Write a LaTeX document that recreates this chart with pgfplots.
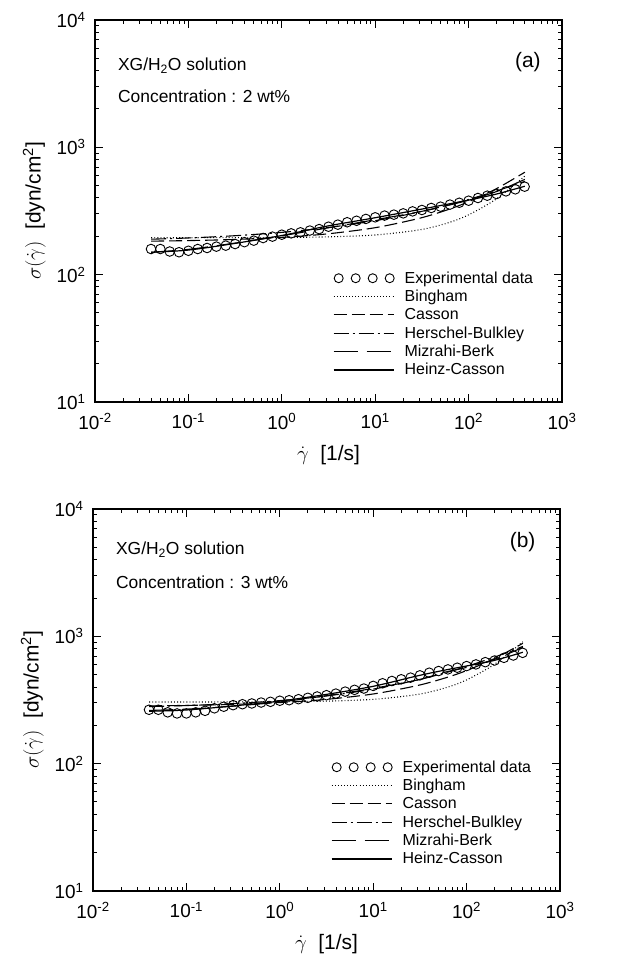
\documentclass[border=0pt]{standalone}
\usepackage{fontspec}
\setmainfont{Liberation Sans}
\usepackage{pgfplots}
\pgfplotsset{compat=1.18}
\tikzset{
  bing/.style={black, line width=1.1bp, dash pattern=on 0.9bp off 2.2bp},
  cass/.style={black, line width=1.1bp, dash pattern=on 13bp off 5bp},
  hb/.style={black, line width=1.1bp, dash pattern=on 15bp off 4bp on 2bp off 4bp},
  mb/.style={black, line width=1.1bp, dash pattern=on 24bp off 9bp},
  hc/.style={black, line width=1.2bp},
}
\newcommand{\circleslegend}{\foreach \k in {0,1,2,3}{\draw[black,line width=0.9bp] (\k*17bp+5bp,0bp) circle (4.5bp);}}
\begin{document}
\begin{tikzpicture}
\useasboundingbox (0bp,0bp) rectangle (625bp,963bp);
% ---------------- panel (a)
\begin{axis}[at={(95bp,561bp)}, anchor=south west,
    xmode=log, ymode=log, scale only axis, width=467bp, height=382bp,
    xmin=1e-2, xmax=1e3, ymin=10, ymax=1e4,
    xtick={0.01,0.1,1,10,100,1000},
    xticklabels={10\textsuperscript{-2},10\textsuperscript{-1},10\textsuperscript{0},10\textsuperscript{1},10\textsuperscript{2},10\textsuperscript{3}},
    ytick={10,100,1000,10000},
    yticklabels={10\textsuperscript{1},10\textsuperscript{2},10\textsuperscript{3},10\textsuperscript{4}},
    minor xtick={0.02,0.03,0.04,0.05,0.06,0.07,0.08,0.09,0.2,0.3,0.4,0.5,0.6,0.7,0.8,0.9,2,3,4,5,6,7,8,9,20,30,40,50,60,70,80,90,200,300,400,500,600,700,800,900},
    minor ytick={20,30,40,50,60,70,80,90,200,300,400,500,600,700,800,900,2000,3000,4000,5000,6000,7000,8000,9000},
    tick label style={font=\fontsize{19}{21}\selectfont},
    xticklabel shift=8bp, yticklabel shift=6bp,
    axis line style={line width=2.4bp},
    major tick length=8bp, minor tick length=4bp,
    every tick/.style={black, line width=1bp},
    xlabel={$\dot{\gamma}$\ \ [1/s]},
    ylabel={$\sigma(\dot{\gamma})$\ \ [dyn/cm\textsuperscript{2}]},
    xlabel shift=9bp, ylabel shift=4bp,
    label style={font=\fontsize{21}{24}\selectfont},
    legend style={at={(0.503,0.352)}, anchor=north west, draw=none, fill=none,
      font=\fontsize{16}{18}\selectfont, row sep=1.4bp, column sep=8bp},
    legend cell align=left,
    legend image code/.code={\draw[#1] (0bp,0bp) -- (60bp,0bp);},
  ]
\addplot[black, only marks, mark=o, mark size=4.8bp, mark options={line width=0.9bp},
    legend image code/.code={\circleslegend}] table {
x y
0.0398 159
0.0501 159
0.0631 152
0.0794 150
0.1 154
0.1259 159
0.1585 162
0.1995 166
0.2512 169
0.3162 174
0.3981 180
0.5012 185
0.6310 194
0.7943 199
1 206
1.259 211
1.585 215
1.995 222
2.512 228
3.162 238
3.981 247
5.012 258
6.310 265
7.943 274
10 282
12.59 291
15.85 296
19.95 303
25.12 314
31.62 322
39.81 334
50.12 342
63.10 355
79.43 367
100 381
125.9 400
158.5 417
199.5 430
251.2 451
316.2 468
398.1 491
};
\addlegendentry{Experimental data}
\addplot[bing, smooth] table {
x y
0.04 195
0.1 195.1
0.3 195.3
1 196
3 198
10 205
30 225
60 255
100 295
200 395
400 595
};
\addlegendentry{Bingham}
\addplot[cass, smooth] table {
x y
0.04 183.3
0.1 185.2
0.3 188.8
1 196.3
3 208.7
10 233.8
30 277.6
60 324
100 374
200 474.8
400 637.6
};
\addlegendentry{Casson}
\addplot[hb, smooth] table {
x y
0.04 189.9
0.1 194.2
0.3 201.8
1 214.8
3 233.4
10 265.4
30 311.1
60 351.8
100 389.7
200 454.7
400 540
};
\addlegendentry{Herschel-Bulkley}
\addplot[mb, smooth] table {
x y
0.04 150
0.1 158
0.3 176
1 202
3 232
10 270
30 312
60 350
100 385
200 450
400 560
};
\addlegendentry{Mizrahi-Berk}
\addplot[hc, smooth] table {
x y
0.04 150
0.1 156
0.3 175
1 203
3 240
10 280
30 325
60 358
100 385
200 430
400 495
};
\addlegendentry{Heinz-Casson}
\node[anchor=west, inner sep=0pt, font=\fontsize{17.5}{20}\selectfont] at (rel axis cs:0.049,0.88) {XG/H\textsubscript{2}O solution};
\node[anchor=west, inner sep=0pt, font=\fontsize{17.5}{20}\selectfont] at (rel axis cs:0.049,0.80) {Concentration : 2 wt\%};
\node[font=\fontsize{21}{24}\selectfont] at (rel axis cs:0.927,0.89) {(a)};
\end{axis}
% ---------------- panel (b)
\begin{axis}[at={(93bp,72bp)}, anchor=south west,
    xmode=log, ymode=log, scale only axis, width=467bp, height=382bp,
    xmin=1e-2, xmax=1e3, ymin=10, ymax=1e4,
    xtick={0.01,0.1,1,10,100,1000},
    xticklabels={10\textsuperscript{-2},10\textsuperscript{-1},10\textsuperscript{0},10\textsuperscript{1},10\textsuperscript{2},10\textsuperscript{3}},
    ytick={10,100,1000,10000},
    yticklabels={10\textsuperscript{1},10\textsuperscript{2},10\textsuperscript{3},10\textsuperscript{4}},
    minor xtick={0.02,0.03,0.04,0.05,0.06,0.07,0.08,0.09,0.2,0.3,0.4,0.5,0.6,0.7,0.8,0.9,2,3,4,5,6,7,8,9,20,30,40,50,60,70,80,90,200,300,400,500,600,700,800,900},
    minor ytick={20,30,40,50,60,70,80,90,200,300,400,500,600,700,800,900,2000,3000,4000,5000,6000,7000,8000,9000},
    tick label style={font=\fontsize{19}{21}\selectfont},
    xticklabel shift=8bp, yticklabel shift=6bp,
    axis line style={line width=2.4bp},
    major tick length=8bp, minor tick length=4bp,
    every tick/.style={black, line width=1bp},
    xlabel={$\dot{\gamma}$\ \ [1/s]},
    ylabel={$\sigma(\dot{\gamma})$\ \ [dyn/cm\textsuperscript{2}]},
    xlabel shift=9bp, ylabel shift=4bp,
    label style={font=\fontsize{21}{24}\selectfont},
    legend style={at={(0.503,0.352)}, anchor=north west, draw=none, fill=none,
      font=\fontsize{16}{18}\selectfont, row sep=1.4bp, column sep=8bp},
    legend cell align=left,
    legend image code/.code={\draw[#1] (0bp,0bp) -- (60bp,0bp);},
  ]
\addplot[black, only marks, mark=o, mark size=4.8bp, mark options={line width=0.9bp},
    legend image code/.code={\circleslegend}] table {
x y
0.0398 265
0.0501 265
0.0631 253
0.0794 248
0.1 248
0.1259 253
0.1585 260
0.1995 272
0.2512 280
0.3162 288
0.3981 293
0.5012 297
0.6310 302
0.7943 306
1 312
1.259 315
1.585 321
1.995 329
2.512 337
3.162 345
3.981 355
5.012 368
6.310 380
7.943 389
10 408
12.59 428
15.85 446
19.95 460
25.12 474
31.62 494
39.81 518
50.12 534
63.10 550
79.43 567
100 584
125.9 602
158.5 627
199.5 646
251.2 678
316.2 707
398.1 742
};
\addlegendentry{Experimental data}
\addplot[bing, smooth] table {
x y
0.04 305
0.1 305
0.3 305.5
1 306.5
3 309.5
10 320
30 350
60 395
100 455
200 605
400 905
};
\addlegendentry{Bingham}
\addplot[cass, smooth] table {
x y
0.04 284.2
0.1 286.8
0.3 291.8
1 302
3 318.7
10 352.6
30 411.3
60 473
100 538.7
200 670.8
400 881.5
};
\addlegendentry{Casson}
\addplot[hb, smooth] table {
x y
0.04 280.7
0.1 286
0.3 295.5
1 312.8
3 338.6
10 385
30 454.8
60 518.9
100 580
200 687.7
400 833
};
\addlegendentry{Herschel-Bulkley}
\addplot[mb, smooth] table {
x y
0.04 262
0.1 268
0.3 282
1 305
3 340
10 390
30 455
60 525
100 570
200 660
400 820
};
\addlegendentry{Mizrahi-Berk}
\addplot[hc, smooth] table {
x y
0.04 258
0.1 264
0.3 283
1 310
3 348
10 405
30 490
60 545
100 585
200 648
400 750
};
\addlegendentry{Heinz-Casson}
\node[anchor=west, inner sep=0pt, font=\fontsize{17.5}{20}\selectfont] at (rel axis cs:0.049,0.893) {XG/H\textsubscript{2}O solution};
\node[anchor=west, inner sep=0pt, font=\fontsize{17.5}{20}\selectfont] at (rel axis cs:0.049,0.809) {Concentration : 3 wt\%};
\node[font=\fontsize{21}{24}\selectfont] at (rel axis cs:0.92,0.914) {(b)};
\end{axis}
\end{tikzpicture}
\end{document}
